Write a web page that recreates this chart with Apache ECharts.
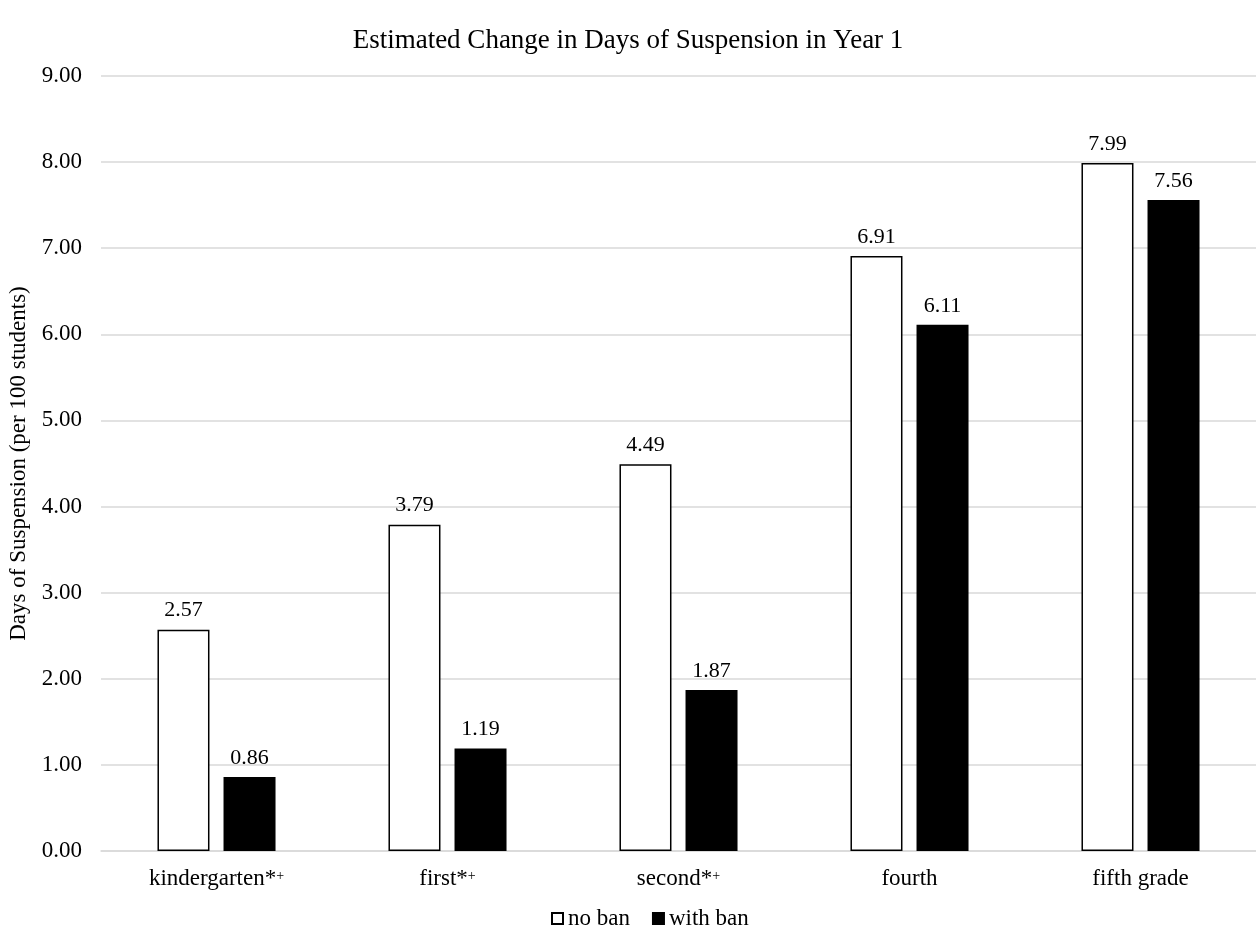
<!DOCTYPE html>
<html>
<head>
<meta charset="utf-8">
<script src="https://cdn.jsdelivr.net/npm/echarts@6/dist/echarts.min.js"></script>
<style>html,body{margin:0;padding:0;background:#fff}#c{width:1256px;height:933px}</style>
</head>
<body>
<div id="c"></div>
<script>
var categories = ['kindergarten*{p|+}', 'first*{p|+}', 'second*{p|+}', 'fourth', 'fifth grade'];
var noBan = [2.57, 3.79, 4.49, 6.91, 7.99];
var withBan = [0.86, 1.19, 1.87, 6.11, 7.56];
var seriesNames = ['no ban', 'with ban'];
var yTicks = { min: 0, max: 9, interval: 1 };

var FONT = '"Liberation Serif", "Times New Roman", serif';
var chart = echarts.init(document.getElementById('c'));
chart.setOption({
  animation: false,
  textStyle: { fontFamily: FONT, color: '#000' },
  title: {
    text: 'Estimated Change in Days of Suspension in Year 1',
    left: 'center', top: 22,
    textStyle: { fontFamily: FONT, fontSize: 27, fontWeight: 'normal', color: '#000' }
  },
  legend: {
    bottom: -2, left: 546,
    itemWidth: 11, itemHeight: 11, itemGap: 22,
    icon: 'rect',
    textStyle: { fontFamily: FONT, fontSize: 23, color: '#000' },
    data: seriesNames
  },
  grid: { left: 101, right: 0, top: 76, bottom: 82, containLabel: false, outerBoundsMode: 'none' },
  xAxis: {
    type: 'category',
    data: categories,
    axisLine: { lineStyle: { color: '#d9d9d9', width: 1.5 } },
    axisTick: { show: false },
    axisLabel: {
      interval: 0,
      margin: 16, fontFamily: FONT, fontSize: 23, color: '#000',
      rich: { p: { fontFamily: FONT, fontSize: 14, color: '#000', padding: [0, 0, 5, 0] } }
    }
  },
  yAxis: {
    type: 'value',
    min: yTicks.min, max: yTicks.max, interval: yTicks.interval,
    name: 'Days of Suspension (per 100 students)',
    nameLocation: 'middle', nameGap: 68,
    nameTextStyle: { fontFamily: FONT, fontSize: 23, color: '#000' },
    axisLine: { show: false },
    axisTick: { show: false },
    axisLabel: {
      margin: 19, fontFamily: FONT, fontSize: 23, color: '#000',
      formatter: function (v) { return v.toFixed(2); }
    },
    splitLine: { lineStyle: { color: '#d9d9d9', width: 1.5 } }
  },
  series: [
    {
      name: seriesNames[0], type: 'bar', data: noBan,
      barWidth: 52, barGap: '27%',
      itemStyle: { color: '#fff', borderColor: '#000', borderWidth: 1.5 },
      label: {
        show: true, position: 'top', distance: 8,
        fontFamily: FONT, fontSize: 22, color: '#000',
        formatter: function (p) { return p.value.toFixed(2); }
      }
    },
    {
      name: seriesNames[1], type: 'bar', data: withBan,
      barWidth: 52,
      itemStyle: { color: '#000', borderColor: '#000', borderWidth: 1.5 },
      label: {
        show: true, position: 'top', distance: 8,
        fontFamily: FONT, fontSize: 22, color: '#000',
        formatter: function (p) { return p.value.toFixed(2); }
      }
    }
  ]
});
</script>
</body>
</html>
